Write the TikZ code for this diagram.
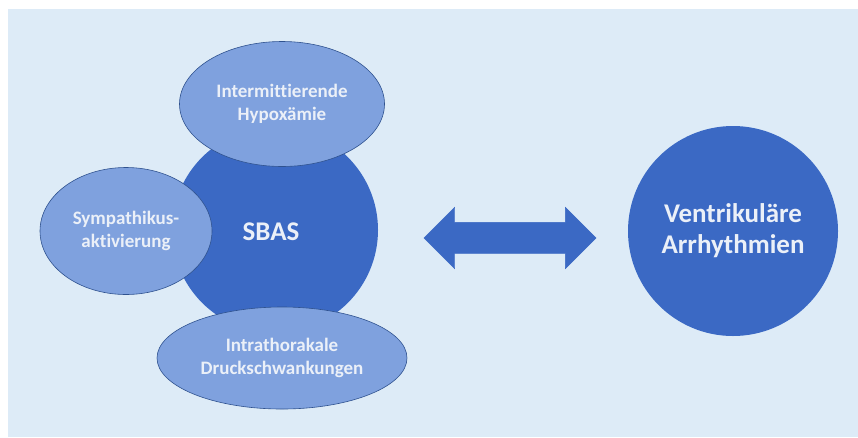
\documentclass[tikz,border=0pt]{standalone}
\usepackage{fontspec}
\setmainfont{Carlito}[Ligatures=NoCommon]
\usetikzlibrary{shapes.geometric,shapes.arrows}

\definecolor{bgblue}{HTML}{DDEBF7}
\definecolor{darkblue}{HTML}{3B69C4}
\definecolor{midblue}{HTML}{7FA1DE}
\definecolor{rimblue}{HTML}{2F528F}
\definecolor{txtwhite}{HTML}{EBF0F8}

\tikzset{
  bigdisc/.style={circle, fill=darkblue, inner sep=0pt, text=txtwhite,
    font=\bfseries\fontsize{27}{31}\selectfont, align=center},
  factor/.style={ellipse, fill=midblue, draw=rimblue, line width=0.6pt,
    inner sep=0pt, text=txtwhite, font=\bfseries\fontsize{19}{23}\selectfont,
    align=center}
}

\begin{document}
\begin{tikzpicture}[x=1pt,y=-1pt]

 \useasboundingbox (0,0) rectangle (858,437);
 \fill[bgblue] (8,9) rectangle (858,437); % panel

% SBAS with its three factors
 \node[bigdisc, minimum size=206] (sbas) at (275,230) {};
 \node[font=\bfseries\fontsize{27}{31}\selectfont, text=txtwhite] (sbaslabel) at (271,232) {SBAS};
 \node[factor, minimum width=205, minimum height=125] (hypox) at (282,104)
   {Intermittierende\\Hypoxämie};
 \node[factor, minimum width=172, minimum height=127] (sympath) at (126,231)
   {Sympathikus-\\aktivierung};
 \node[factor, minimum width=250, minimum height=102] (druck) at (282,358)
   {Intrathorakale\\Druckschwankungen};

% right side
 \node[bigdisc, minimum size=210] (arrhyth) at (733,231)
   {Ventrikuläre\\Arrhythmien};

% double arrow between both sides
 \node[double arrow, fill=darkblue, draw=darkblue, line width=0.4pt,
   minimum height=172, inner xsep=0pt, inner ysep=15.5pt,
   double arrow head extend=15pt] (link) at (510,238) {};

\end{tikzpicture}
\end{document}
